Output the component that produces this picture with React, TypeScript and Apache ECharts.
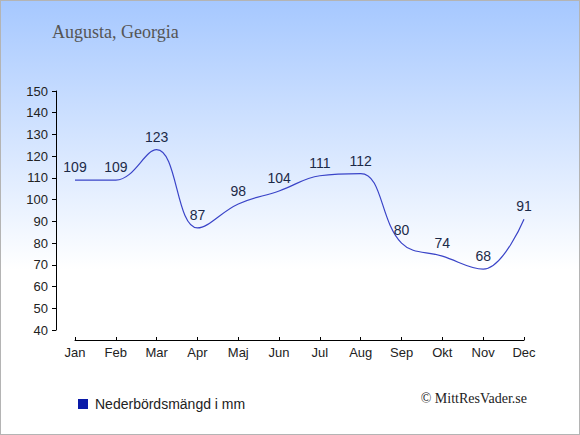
import React, { useEffect, useRef } from "react";
import * as echarts from "echarts";

const months = ["Jan", "Feb", "Mar", "Apr", "Maj", "Jun", "Jul", "Aug", "Sep", "Okt", "Nov", "Dec"];
const precipitation = [109, 109, 123, 87, 98, 104, 111, 112, 80, 74, 68, 91];
const titleText = "Augusta, Georgia";
const legendLabel = "Nederbördsmängd i mm";
const copyrightText = "© MittResVader.se";

export default function App() {
  const ref = useRef<HTMLDivElement>(null);
  useEffect(() => {
    document.body.style.margin = "0";
    const chart = echarts.init(ref.current!, null, { renderer: "svg" });
    chart.setOption({
      animation: false,
      title: {
        text: titleText,
        left: 46,
        top: 17,
        textStyle: { fontFamily: "Liberation Serif", fontSize: 18, fontWeight: "normal", color: "#555555" },
      },
      legend: {
        left: 72,
        top: 391,
        icon: "rect",
        itemWidth: 10,
        itemHeight: 10,
        itemGap: 7,
        textStyle: { fontFamily: "Liberation Sans", fontSize: 14, color: "#222222", padding: [0, 0, 0, 2] },
        data: [legendLabel],
      },
      graphic: [
        {
          type: "text",
          right: 52,
          top: 390,
          style: { text: copyrightText, font: "14px 'Liberation Serif'", fill: "#222222" },
        },
      ],
      grid: { left: 74, right: 55, top: 90, bottom: 104 },
      xAxis: {
        type: "category",
        data: months,
        boundaryGap: false,
        offset: 10,
        axisLine: { show: true, lineStyle: { color: "#000", width: 1 } },
        axisTick: { show: true, inside: true, length: 3, lineStyle: { color: "#000" } },
        axisLabel: { fontFamily: "Liberation Sans", fontSize: 13, color: "#222", margin: 6 },
        splitLine: { show: false },
      },
      yAxis: {
        type: "value",
        min: 40,
        max: 150,
        interval: 10,
        offset: 19,
        axisLine: { show: true, lineStyle: { color: "#000", width: 1 } },
        axisTick: { show: true, length: 4, lineStyle: { color: "#000" } },
        axisLabel: { fontFamily: "Liberation Sans", fontSize: 13, color: "#222", margin: 8 },
        splitLine: { show: false },
      },
      series: [
        {
          name: legendLabel,
          type: "line",
          data: precipitation,
          smooth: 0.4,
          symbol: "circle",
          showSymbol: true,
          symbolSize: 0,
          itemStyle: { color: "#0a1aa8" },
          lineStyle: { color: "#3a44c8", width: 1.2 },
          label: {
            show: true,
            position: "top",
            distance: 6,
            fontFamily: "Liberation Sans",
            fontSize: 14,
            color: "#1c2a48",
          },
        },
      ],
    });
    return () => chart.dispose();
  }, []);
  return (
    <div
      ref={ref}
      style={{
        position: "absolute",
        left: 0,
        top: 0,
        width: 580,
        height: 435,
        boxSizing: "border-box",
        border: "1px solid #b4b4b4",
        background: "linear-gradient(to bottom, #a6c8ff 0%, #ffffff 62%)",
      }}
    />
  );
}
